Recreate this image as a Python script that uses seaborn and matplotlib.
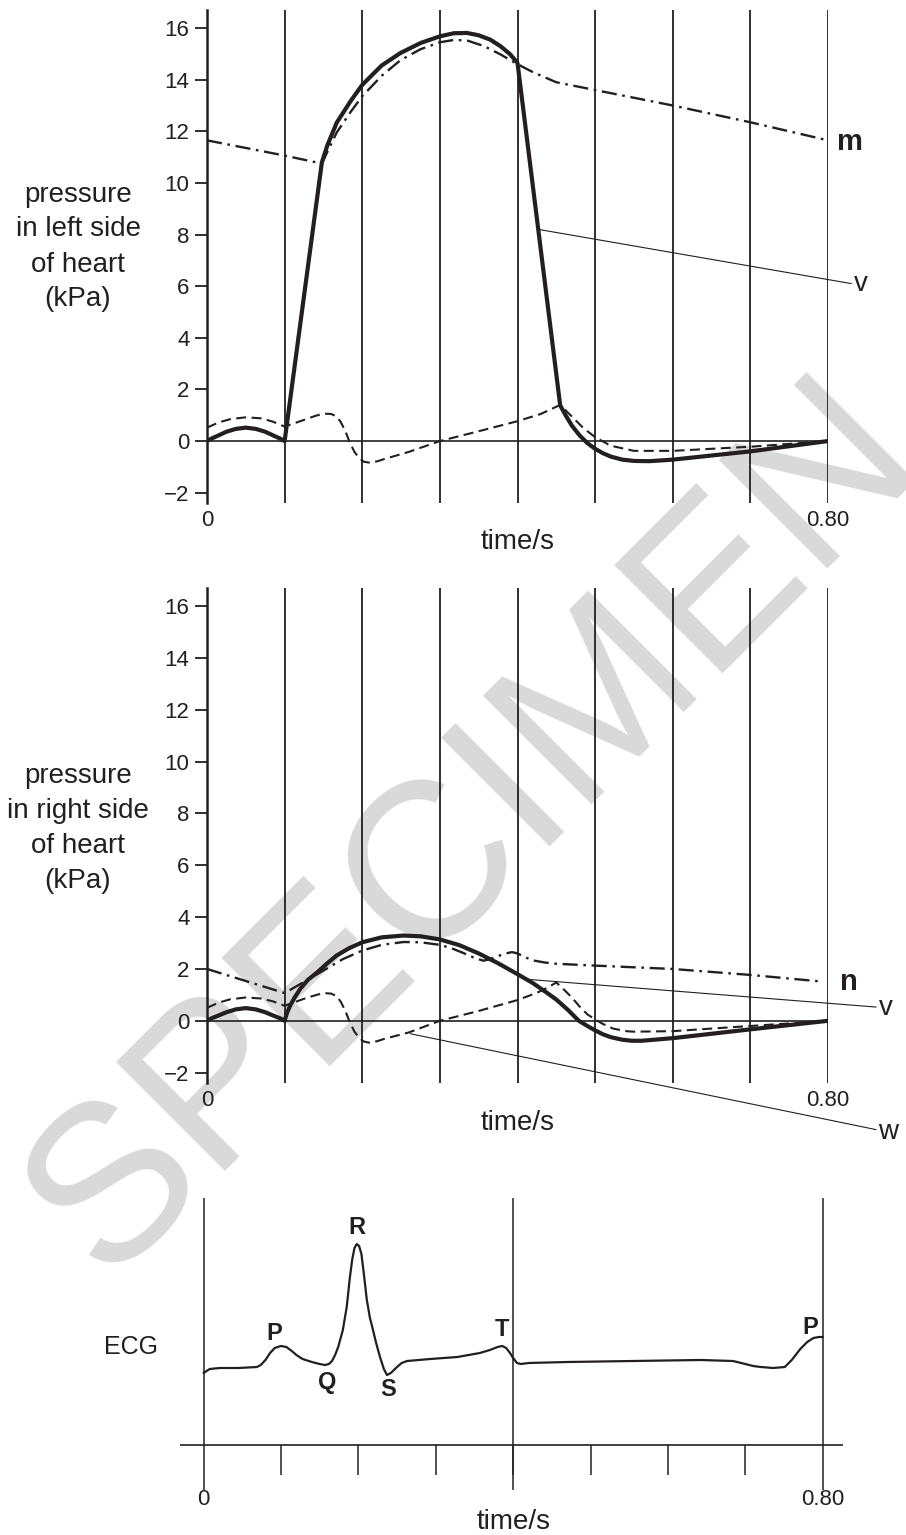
import numpy as np
import matplotlib
matplotlib.use("Agg")
import matplotlib.pyplot as plt
import seaborn as sns

# ---- left side of heart (kPa) ----
t_lv = [0, 0.006, 0.012, 0.025, 0.037, 0.05, 0.063, 0.075, 0.088, 0.094, 0.1,
        0.148, 0.155, 0.167, 0.185, 0.2, 0.225, 0.249, 0.275, 0.3, 0.318, 0.335,
        0.35, 0.365, 0.378, 0.39, 0.4, 0.455, 0.462, 0.47, 0.48, 0.49, 0.5, 0.51,
        0.52, 0.535, 0.55, 0.57, 0.6, 0.7, 0.8]
p_lv = [0, 0.1, 0.18, 0.36, 0.47, 0.52, 0.47, 0.36, 0.18, 0.1, 0,
        10.8, 11.45, 12.33, 13.17, 13.8, 14.55, 15.03, 15.42, 15.68, 15.8, 15.81,
        15.72, 15.55, 15.3, 15.0, 14.65, 1.38, 1.0, 0.6, 0.22, -0.08, -0.3, -0.47,
        -0.6, -0.72, -0.77, -0.78, -0.72, -0.4, 0]

t_la = [0, 0.015, 0.03, 0.05, 0.07, 0.085, 0.1, 0.125, 0.14, 0.15, 0.16, 0.167,
        0.172, 0.178, 0.184, 0.19, 0.196, 0.202, 0.21, 0.22, 0.228, 0.26, 0.3,
        0.35, 0.4, 0.43, 0.455, 0.47, 0.485, 0.5, 0.52, 0.55, 0.6, 0.7, 0.8]
p_la = [0.52, 0.72, 0.85, 0.92, 0.88, 0.75, 0.56, 0.82, 0.98, 1.06, 1.05, 0.95,
        0.75, 0.4, -0.06, -0.42, -0.66, -0.8, -0.84, -0.78, -0.7, -0.42, 0,
        0.38, 0.77, 1.05, 1.4, 0.95, 0.5, 0.15, -0.18, -0.38, -0.38, -0.22, 0]

t_ao = [0, 0.1, 0.148, 0.155, 0.167, 0.185, 0.2, 0.225, 0.249, 0.275, 0.3, 0.318,
        0.335, 0.357, 0.378, 0.4, 0.42, 0.45, 0.5, 0.6, 0.7, 0.8]
p_ao = [11.65, 11.06, 10.75, 11.2, 11.95, 12.75, 13.36, 14.15, 14.75, 15.18, 15.45,
        15.54, 15.52, 15.3, 14.98, 14.6, 14.29, 13.9, 13.6, 13.0, 12.35, 11.65]

# ---- right side of heart (kPa) ----
t_rv = [0, 0.006, 0.012, 0.025, 0.037, 0.05, 0.063, 0.075, 0.088, 0.094, 0.1,
        0.103, 0.107, 0.113, 0.12, 0.13, 0.142, 0.155, 0.167, 0.183, 0.2, 0.225,
        0.253, 0.275, 0.3, 0.325, 0.35, 0.375, 0.4, 0.42, 0.437, 0.45, 0.465,
        0.479, 0.49, 0.5, 0.51, 0.52, 0.535, 0.547, 0.56, 0.6, 0.7, 0.8]
p_rv = [0, 0.1, 0.17, 0.33, 0.44, 0.49, 0.44, 0.33, 0.17, 0.1, 0,
        0.3, 0.58, 0.9, 1.23, 1.58, 1.87, 2.22, 2.52, 2.8, 3.03, 3.22,
        3.29, 3.26, 3.14, 2.92, 2.6, 2.22, 1.8, 1.45, 1.1, 0.82, 0.42,
        0.0, -0.2, -0.37, -0.52, -0.63, -0.73, -0.77, -0.77, -0.67, -0.33, 0]

t_ra = [0, 0.015, 0.03, 0.05, 0.07, 0.085, 0.1, 0.125, 0.14, 0.15, 0.16, 0.167,
        0.172, 0.178, 0.184, 0.19, 0.196, 0.202, 0.21, 0.22, 0.228, 0.26, 0.3,
        0.35, 0.4, 0.425, 0.44, 0.45, 0.46, 0.47, 0.48, 0.49, 0.5, 0.51, 0.523,
        0.54, 0.55, 0.6, 0.7, 0.8]
p_ra = [0.5, 0.7, 0.83, 0.9, 0.86, 0.75, 0.58, 0.85, 0.99, 1.07, 1.05, 0.95,
        0.75, 0.4, -0.06, -0.42, -0.66, -0.8, -0.85, -0.78, -0.7, -0.45, 0,
        0.38, 0.8, 1.08, 1.3, 1.48, 1.2, 0.9, 0.55, 0.25, 0.05, -0.12, -0.3,
        -0.4, -0.42, -0.4, -0.2, 0]

t_pa = [0, 0.1, 0.125, 0.15, 0.175, 0.2, 0.225, 0.253, 0.275, 0.3, 0.315, 0.33,
        0.345, 0.356, 0.365, 0.375, 0.385, 0.393, 0.4, 0.41, 0.42, 0.435, 0.45,
        0.5, 0.6, 0.7, 0.79]
p_pa = [2.0, 1.07, 1.5, 1.94, 2.38, 2.71, 2.93, 3.04, 3.03, 2.93, 2.8, 2.62,
        2.42, 2.32, 2.38, 2.5, 2.6, 2.65, 2.6, 2.45, 2.33, 2.25, 2.2,
        2.13, 2.0, 1.77, 1.52]

# ---- ECG (arbitrary units, baseline = 0) ----
t_ecg = [0, 0.008, 0.021, 0.045, 0.069, 0.074, 0.08, 0.086, 0.092, 0.1, 0.107,
         0.114, 0.12, 0.128, 0.14, 0.15, 0.157, 0.162, 0.166, 0.17, 0.174, 0.18,
         0.185, 0.189, 0.192, 0.195, 0.198, 0.201, 0.204, 0.207, 0.211, 0.215,
         0.218, 0.223, 0.228, 0.233, 0.237, 0.242, 0.25, 0.256, 0.263, 0.293,
         0.328, 0.357, 0.37, 0.38, 0.386, 0.391, 0.396, 0.4, 0.405, 0.41, 0.42,
         0.47, 0.555, 0.642, 0.684, 0.7, 0.71, 0.72, 0.736, 0.751, 0.76, 0.771,
         0.78, 0.788, 0.795, 0.8]
v_ecg = [-0.05, -0.01, 0.0, 0.0, 0.01, 0.03, 0.08, 0.15, 0.2, 0.22, 0.21,
         0.17, 0.13, 0.09, 0.06, 0.04, 0.03, 0.04, 0.07, 0.13, 0.21, 0.38,
         0.61, 0.9, 1.08, 1.2, 1.24, 1.22, 1.14, 0.95, 0.68, 0.5,
         0.41, 0.25, 0.11, -0.01, -0.07, -0.05, 0.01, 0.05, 0.07, 0.09,
         0.11, 0.15, 0.18, 0.21, 0.22, 0.2, 0.15, 0.1, 0.05, 0.04, 0.05,
         0.06, 0.07, 0.08, 0.07, 0.04, 0.02, 0.01, 0.0, 0.01, 0.08, 0.19,
         0.26, 0.3, 0.31, 0.31]
ecg_marks = ["P", "Q", "R", "S", "T", "P"]
ecg_mark_t = [0.092, 0.160, 0.198, 0.238, 0.386, 0.784]
ecg_mark_v = [0.35, -0.15, 1.40, -0.22, 0.38, 0.41]

sns.set_style("white")
plt.rcParams['font.family'] = ['Liberation Sans', 'DejaVu Sans']
ink = '#231f20'

W, H = 906, 1535
fig = plt.figure(figsize=(W / 100, H / 100), dpi=100)


def box(l, t, r, b):
    return [l / W, 1 - b / H, (r - l) / W, (b - t) / H]


solid = dict(color=ink, lw=3.0, solid_joinstyle='round', solid_capstyle='round')
dashed = dict(color=ink, lw=1.5, linestyle=(0, (4.8, 2.6)))
dashdot = dict(color=ink, lw=1.7, linestyle=(0, (6.4, 2.4, 1.1, 2.4)))


def pressure_panel(ax, curves):
    ax.patch.set_alpha(0)
    ax.set_xlim(0, 0.8)
    ax.set_ylim(-2.4, 16.7)
    for x in np.arange(1, 9) / 10:
        ax.axvline(x, color=ink, lw=1.3)
    ax.axhline(0, color=ink, lw=1.2)
    for t, p, st in curves:
        sns.lineplot(x=t, y=p, ax=ax, estimator=None, sort=False, legend=False, **st)
    for s in ['top', 'right', 'bottom']:
        ax.spines[s].set_visible(False)
    ax.spines['left'].set_linewidth(1.8)
    ax.spines['left'].set_color(ink)
    ax.set_yticks(range(-2, 17, 2))
    ax.tick_params(axis='y', left=True, length=8.6, width=1.3, pad=4,
                   labelsize=16, colors=ink)
    ax.set_xticks([])
    ax.set_xlabel('')
    ax.set_ylabel('')
    tr = ax.get_xaxis_transform()
    ax.text(0, -0.036, '0', transform=tr, ha='center', va='center', fontsize=16, color=ink)
    ax.text(0.8, -0.036, '0.80', transform=tr, ha='center', va='center', fontsize=16, color=ink)
    ax.text(0.4, -0.08, 'time/s', transform=tr, ha='center', va='center', fontsize=20, color=ink)


thin = dict(color=ink, lw=0.8, clip_on=False)
lab = dict(color=ink, ha='left', va='center', clip_on=False)

# panel 1
ax1 = fig.add_axes(box(207, 10, 828, 503))
pressure_panel(ax1, [(t_lv, p_lv, solid), (t_la, p_la, dashed), (t_ao, p_ao, dashdot)])
ax1.plot([0.427, 0.83], [8.2, 6.1], **thin)
ax1.text(0.833, 6.1, 'v', fontsize=20, **lab)
ax1.text(0.812, 11.6, 'm', fontsize=21, fontweight='bold', **lab)
fig.text(78 / W, 1 - 247 / H, 'pressure\nin left side\nof heart\n(kPa)', ha='center',
         va='center', fontsize=20, color=ink, linespacing=1.45)

# panel 2
ax2 = fig.add_axes(box(207, 588, 828, 1083))
pressure_panel(ax2, [(t_rv, p_rv, solid), (t_ra, p_ra, dashed), (t_pa, p_pa, dashdot)])
ax2.plot([0.413, 0.862], [1.6, 0.53], **thin)
ax2.text(0.865, 0.5, 'v', fontsize=20, **lab)
ax2.plot([0.262, 0.862], [-0.5, -4.2], **thin)
ax2.text(0.865, -4.3, 'w', fontsize=20, **lab)
ax2.text(0.815, 1.5, 'n', fontsize=21, fontweight='bold', **lab)
fig.text(78 / W, 1 - 828 / H, 'pressure\nin right side\nof heart\n(kPa)', ha='center',
         va='center', fontsize=20, color=ink, linespacing=1.45)

# panel 3: ECG
ax3 = fig.add_axes(box(180, 1198, 843, 1490))
ax3.set_xlim(-0.0304, 0.8262)
ax3.set_ylim(-1.22, 1.70)
ax3.axis('off')
ax3.vlines([0, 0.4, 0.8], -1.22, 1.70, color=ink, lw=1.1)
ax3.axhline(-0.77, color=ink, lw=1.2)
ax3.vlines(np.arange(1, 8) / 10, -1.07, -0.77, color=ink, lw=1.1)
sns.lineplot(x=t_ecg, y=v_ecg, ax=ax3, estimator=None, sort=False, legend=False,
             color=ink, lw=1.6)
for s, tt, vv in zip(ecg_marks, ecg_mark_t, ecg_mark_v):
    ax3.text(tt, vv, s, ha='center', va='center', fontsize=17, fontweight='bold', color=ink)
tr3 = ax3.get_xaxis_transform()
ax3.text(0, -0.034, '0', transform=tr3, ha='center', va='center', fontsize=16, color=ink)
ax3.text(0.8, -0.034, '0.80', transform=tr3, ha='center', va='center', fontsize=16, color=ink)
ax3.text(0.4, -0.108, 'time/s', transform=tr3, ha='center', va='center', fontsize=20, color=ink)
fig.text(131 / W, 1 - 1347 / H, 'ECG', ha='center', va='center', fontsize=18, color=ink)

# watermark
fig.text(475 / W, 1 - 830 / H, 'SPECIMEN', rotation=45, fontsize=160, color='#d9d9d9',
         ha='center', va='center', rotation_mode='anchor', zorder=-1)

fig.savefig('out.png', dpi=100)
